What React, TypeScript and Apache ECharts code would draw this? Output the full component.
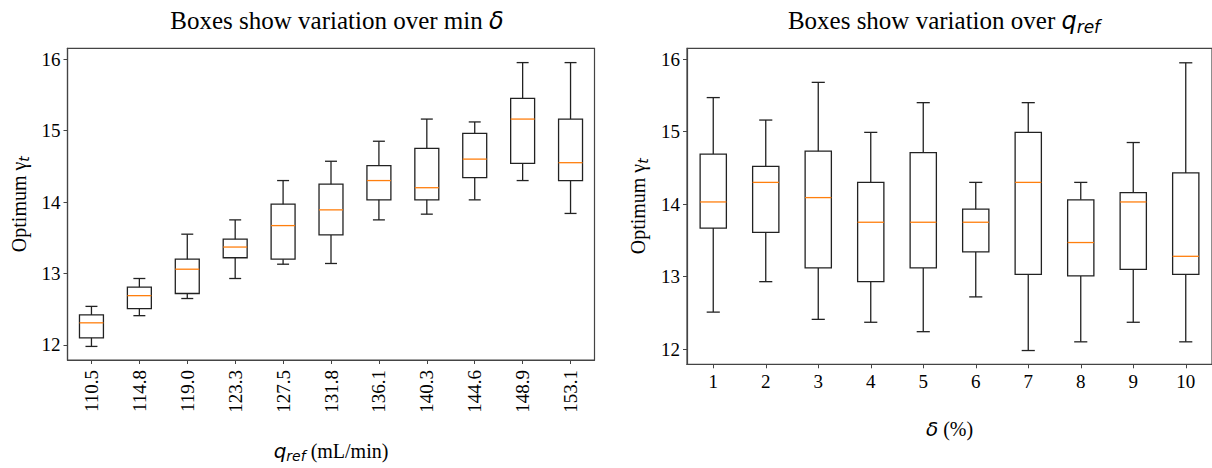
import React, { useEffect, useRef } from "react";
import * as echarts from "echarts";

// ---- data ----
const leftCategories = ["110.5", "114.8", "119.0", "123.3", "127.5", "131.8", "136.1", "140.3", "144.6", "148.9", "153.1"];
const leftLow = [11.98, 12.41, 12.65, 12.93, 13.13, 13.14, 13.75, 13.83, 14.03, 14.30, 13.84];
const leftQ1 = [12.10, 12.51, 12.72, 13.22, 13.20, 13.54, 14.03, 14.03, 14.34, 14.54, 14.30];
const leftMed = [12.31, 12.69, 13.06, 13.37, 13.67, 13.89, 14.30, 14.20, 14.60, 15.16, 14.55];
const leftQ3 = [12.42, 12.81, 13.20, 13.48, 13.97, 14.25, 14.51, 14.75, 14.96, 15.45, 15.16];
const leftHigh = [12.54, 12.93, 13.55, 13.75, 14.30, 14.57, 14.85, 15.16, 15.12, 15.95, 15.95];

const rightCategories = ["1", "2", "3", "4", "5", "6", "7", "8", "9", "10"];
const rightLow = [12.51, 12.93, 12.41, 12.37, 12.24, 12.72, 11.98, 12.10, 12.37, 12.10];
const rightQ1 = [13.67, 13.61, 13.12, 12.93, 13.12, 13.34, 13.03, 13.01, 13.10, 13.03];
const rightMed = [14.03, 14.30, 14.09, 13.75, 13.75, 13.75, 14.30, 13.47, 14.03, 13.28];
const rightQ3 = [14.69, 14.52, 14.73, 14.30, 14.71, 13.93, 14.99, 14.06, 14.16, 14.43];
const rightHigh = [15.47, 15.16, 15.68, 14.99, 15.40, 14.30, 15.40, 14.30, 14.85, 15.95];

const yTicks = [12, 13, 14, 15, 16];
const yMin = 11.79;
const yMax = 16.15;

const SERIF = "'Liberation Serif', 'Times New Roman', serif";
const MATH = "'DejaVu Sans', sans-serif";
const INK = "#222";
const SPINE = "#444";
const MEDIAN = "#ff7f0e";

function buildRows(low: number[], q1: number[], med: number[], q3: number[], high: number[]) {
  return low.map((_, i) => [i, low[i], q1[i], med[i], q3[i], high[i]]);
}

function renderBox(params: any, api: any) {
  const x = api.value(0);
  const pLow = api.coord([x, api.value(1)]);
  const pQ1 = api.coord([x, api.value(2)]);
  const pMed = api.coord([x, api.value(3)]);
  const pQ3 = api.coord([x, api.value(4)]);
  const pHigh = api.coord([x, api.value(5)]);
  const band = api.size([1, 0])[0];
  const hw = band * 0.25;
  const cw = band * 0.125;
  const cx = pLow[0];
  const ls = { stroke: INK, lineWidth: 1.3, fill: "none" };
  return {
    type: "group",
    children: [
      { type: "line", shape: { x1: cx, y1: pQ1[1], x2: cx, y2: pLow[1] }, style: ls },
      { type: "line", shape: { x1: cx, y1: pQ3[1], x2: cx, y2: pHigh[1] }, style: ls },
      { type: "line", shape: { x1: cx - cw, y1: pLow[1], x2: cx + cw, y2: pLow[1] }, style: ls },
      { type: "line", shape: { x1: cx - cw, y1: pHigh[1], x2: cx + cw, y2: pHigh[1] }, style: ls },
      { type: "rect", shape: { x: cx - hw, y: pQ3[1], width: 2 * hw, height: pQ1[1] - pQ3[1] }, style: { stroke: INK, lineWidth: 1.3, fill: "none" } },
      { type: "line", shape: { x1: cx - hw, y1: pMed[1], x2: cx + hw, y2: pMed[1] }, style: { stroke: MEDIAN, lineWidth: 1.3 } },
    ],
  };
}

const richBase = {
  a: { fontFamily: SERIF, fontSize: 20, color: "#000", lineHeight: 24, fontWeight: "normal" },
  q: { fontFamily: MATH, fontStyle: "italic", fontSize: 20, color: "#000", lineHeight: 24, fontWeight: "normal" },
  g: { fontFamily: SERIF, fontSize: 20, color: "#000", lineHeight: 24, fontWeight: "normal" },
  s: { fontFamily: MATH, fontStyle: "italic", fontSize: 14, color: "#000", lineHeight: 14, verticalAlign: "bottom", fontWeight: "normal" },
};

const richTitle = {
  a: { fontFamily: SERIF, fontSize: 25, color: "#000", lineHeight: 29, fontWeight: "normal" },
  d: { fontFamily: MATH, fontStyle: "italic", fontSize: 24, color: "#000", lineHeight: 29, fontWeight: "normal" },
  s: { fontFamily: MATH, fontStyle: "italic", fontSize: 17, color: "#000", lineHeight: 17, verticalAlign: "bottom", fontWeight: "normal" },
};

function yAxisFor(gridIndex: number) {
  return {
    type: "value",
    gridIndex,
    min: yMin,
    max: yMax,
    name: "{a|Optimum }{g|γ}{s|t}",
    nameLocation: "middle",
    nameRotate: 90,
    nameGap: 37,
    nameTextStyle: { rich: richBase },
    splitLine: { show: false },
    axisLine: { show: true, lineStyle: { color: SPINE, width: 1.2 } },
    axisTick: { show: true, length: 4, lineStyle: { color: SPINE, width: 1 }, customValues: yTicks },
    axisLabel: { customValues: yTicks, fontFamily: SERIF, fontSize: 19, color: "#000", margin: 7 },
  };
}

export default function App() {
  const ref = useRef<HTMLDivElement>(null);
  useEffect(() => {
    if (!ref.current) return;
    const chart = echarts.init(ref.current, null, { renderer: "svg" });
    const option: any = {
      animation: false,
      backgroundColor: "#fff",
      title: [
        {
          text: "{a|Boxes show variation over min }{d|δ}",
          left: 332,
          top: 1,
          textAlign: "center",
          textStyle: { fontWeight: "normal", rich: richTitle },
        },
        {
          text: "{a|Boxes show variation over }{d|q}{s|ref}",
          left: 939,
          top: 1,
          textAlign: "center",
          textStyle: { fontWeight: "normal", rich: richTitle },
        },
      ],
      grid: [
        { left: 67.5, top: 48.3, width: 527, height: 316, show: true, borderColor: SPINE, borderWidth: 1.2, backgroundColor: "transparent" },
        { left: 687, top: 48.3, width: 528, height: 316, show: true, borderColor: SPINE, borderWidth: 1.2, backgroundColor: "transparent" },
      ],
      xAxis: [
        {
          type: "category",
          gridIndex: 0,
          data: leftCategories,
          name: "{q|q}{s|ref}{a| (mL/min)}",
          nameLocation: "middle",
          nameGap: 79,
          nameTextStyle: { rich: richBase },
          axisLine: { show: true, lineStyle: { color: SPINE, width: 1.2 } },
          axisTick: { show: true, alignWithLabel: true, length: 4, lineStyle: { color: SPINE, width: 1 } },
          axisLabel: { rotate: 90, fontFamily: SERIF, fontSize: 19, color: "#000", margin: 10, interval: 0 },
          splitLine: { show: false },
        },
        {
          type: "category",
          gridIndex: 1,
          data: rightCategories,
          name: "{q|δ}{a| (%)}",
          nameLocation: "middle",
          nameGap: 53,
          nameTextStyle: { rich: richBase },
          axisLine: { show: true, lineStyle: { color: SPINE, width: 1.2 } },
          axisTick: { show: true, alignWithLabel: true, length: 4, lineStyle: { color: SPINE, width: 1 } },
          axisLabel: { fontFamily: SERIF, fontSize: 19, color: "#000", margin: 8, interval: 0 },
          splitLine: { show: false },
        },
      ],
      yAxis: [yAxisFor(0), yAxisFor(1)],
      series: [
        {
          type: "custom",
          xAxisIndex: 0,
          yAxisIndex: 0,
          data: buildRows(leftLow, leftQ1, leftMed, leftQ3, leftHigh),
          encode: { x: 0, y: [1, 2, 3, 4, 5] },
          renderItem: renderBox,
          silent: true,
        },
        {
          type: "custom",
          xAxisIndex: 1,
          yAxisIndex: 1,
          data: buildRows(rightLow, rightQ1, rightMed, rightQ3, rightHigh),
          encode: { x: 0, y: [1, 2, 3, 4, 5] },
          renderItem: renderBox,
          silent: true,
        },
      ],
    };
    chart.setOption(option);
    return () => chart.dispose();
  }, []);
  return <div ref={ref} style={{ position: "fixed", left: 0, top: 0, width: 1212, height: 468 }} />;
}
